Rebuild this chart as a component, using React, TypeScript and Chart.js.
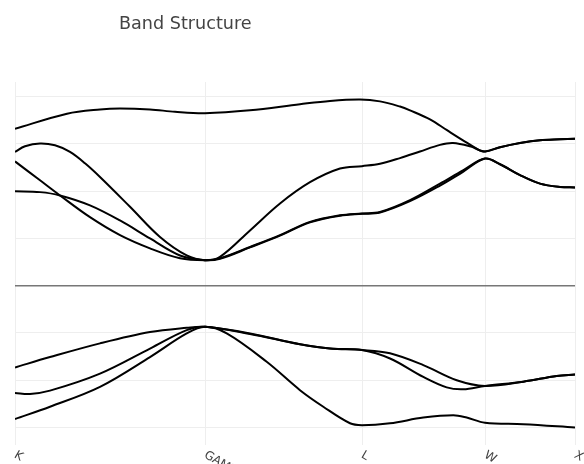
import React, { useEffect, useRef } from 'react';
import { Chart, registerables } from 'chart.js';

Chart.register(...registerables);

const titleText = 'Band Structure';

// high-symmetry points along the k-path
const kLabels = ['K', 'GAMMA', 'L', 'W', 'X'];
const kTicks = [0, 1.9, 3.47, 4.7, 5.6];

// energy grid
const energyTicks = [-3, -2, -1, 0, 1, 2, 3, 4];
const energyMin = -3.37;
const energyMax = 4.31;

// conduction bands
const c4K = [0, 0.52, 0.85, 1.05, 1.35, 1.6, 1.9, 2.35, 2.85, 3.15, 3.45, 3.65, 3.85, 3.95, 4.15, 4.32, 4.5, 4.65, 4.7, 4.85, 5.05, 5.25, 5.45, 5.6];
const c4E = [3.32, 3.64, 3.73, 3.75, 3.73, 3.68, 3.65, 3.71, 3.84, 3.91, 3.94, 3.9, 3.79, 3.71, 3.52, 3.29, 3.05, 2.86, 2.84, 2.93, 3.02, 3.08, 3.1, 3.11];

const c3K = [0, 0.1, 0.25, 0.4, 0.55, 0.7, 0.85, 1.15, 1.45, 1.717, 1.9, 2.05, 2.35, 2.65, 2.95, 3.25, 3.47, 3.65, 3.85, 4.05, 4.25, 4.38, 4.55, 4.7, 4.85, 5.05, 5.25, 5.45, 5.6];
const c3E = [2.83, 2.95, 3.01, 2.97, 2.83, 2.59, 2.3, 1.67, 1.03, 0.64, 0.54, 0.61, 1.17, 1.74, 2.19, 2.48, 2.53, 2.58, 2.7, 2.84, 2.98, 3.02, 2.95, 2.84, 2.93, 3.02, 3.08, 3.1, 3.11];

const c2K = [0, 0.25, 0.45, 0.75, 1.05, 1.35, 1.65, 1.9, 2.05, 2.35, 2.65, 2.95, 3.25, 3.47, 3.65, 3.95, 4.25, 4.48, 4.7, 4.85, 5.05, 5.25, 5.45, 5.6];
const c2E = [2.63, 2.23, 1.91, 1.45, 1.07, 0.79, 0.58, 0.54, 0.58, 0.82, 1.07, 1.35, 1.49, 1.53, 1.56, 1.81, 2.16, 2.44, 2.69, 2.57, 2.34, 2.16, 2.09, 2.08];

const c1K = [0, 0.25, 0.45, 0.75, 1.05, 1.35, 1.65, 1.9, 2.05, 2.35, 2.65, 2.95, 3.25, 3.47, 3.65, 3.95, 4.25, 4.48, 4.7, 4.85, 5.05, 5.25, 5.45, 5.6];
const c1E = [2.0, 1.98, 1.91, 1.7, 1.38, 1.0, 0.64, 0.54, 0.57, 0.81, 1.06, 1.34, 1.48, 1.52, 1.55, 1.79, 2.12, 2.41, 2.69, 2.57, 2.34, 2.16, 2.09, 2.08];

// valence bands
const v1K = [0, 0.35, 0.85, 1.35, 1.717, 1.9, 2.35, 2.85, 3.15, 3.47, 3.75, 4.083, 4.417, 4.7, 5.083, 5.417, 5.6];
const v1E = [-1.73, -1.51, -1.22, -0.98, -0.89, -0.87, -1.01, -1.24, -1.33, -1.36, -1.43, -1.68, -2.0, -2.12, -2.03, -1.91, -1.88];

const v2K = [0, 0.15, 0.35, 0.85, 1.35, 1.717, 1.9, 2.35, 2.85, 3.15, 3.47, 3.75, 4.083, 4.317, 4.483, 4.7, 5.083, 5.417, 5.6];
const v2E = [-2.27, -2.29, -2.22, -1.86, -1.33, -0.94, -0.87, -1.02, -1.24, -1.33, -1.36, -1.54, -1.93, -2.15, -2.19, -2.12, -2.03, -1.91, -1.88];

const v3K = [0, 0.35, 0.85, 1.35, 1.717, 1.9, 2.117, 2.517, 2.85, 3.083, 3.35, 3.47, 3.75, 4.083, 4.383, 4.517, 4.7, 5.083, 5.6];
const v3E = [-2.82, -2.56, -2.14, -1.51, -1.01, -0.87, -1.01, -1.61, -2.21, -2.56, -2.91, -2.95, -2.91, -2.79, -2.74, -2.79, -2.9, -2.93, -3.0];

const bands: [number[], number[]][] = [
  [c4K, c4E],
  [c3K, c3E],
  [c2K, c2E],
  [c1K, c1E],
  [v1K, v1E],
  [v2K, v2E],
  [v3K, v3E],
];

const overlayPlugin = {
  id: 'overlayText',
  afterDraw(chart: any) {
    const ctx = chart.ctx as CanvasRenderingContext2D;
    const xs = chart.scales.x;
    const area = chart.chartArea;
    ctx.save();
    ctx.fillStyle = '#444';
    ctx.font = '17.6px "DejaVu Sans"';
    ctx.textBaseline = 'alphabetic';
    ctx.textAlign = 'left';
    ctx.fillText(titleText, 119, 29);
    ctx.font = '12px "DejaVu Sans"';
    ctx.textBaseline = 'top';
    kTicks.forEach((k, i) => {
      const px = xs.getPixelForValue(k);
      ctx.save();
      ctx.translate(px + 3, area.bottom + 4);
      ctx.rotate(Math.PI / 6);
      ctx.fillText(kLabels[i], 0, 0);
      ctx.restore();
    });
    ctx.restore();
  },
};

export default function App() {
  const ref = useRef<HTMLCanvasElement | null>(null);
  useEffect(() => {
    if (!ref.current) return;
    const chart = new Chart(ref.current, {
      type: 'line',
      data: {
        datasets: bands.map(([ks, es]) => ({
          data: ks.map((k, i) => ({ x: k, y: es[i] })),
          borderColor: '#000',
          borderWidth: 2,
          pointRadius: 0,
          fill: false,
          tension: 0.35,
        })),
      },
      options: {
        animation: false,
        responsive: false,
        layout: { padding: { left: 15, right: 9, top: 82, bottom: 19 } },
        plugins: {
          legend: { display: false },
          tooltip: { enabled: false },
          title: { display: false },
        },
        scales: {
          x: {
            type: 'linear',
            min: kTicks[0],
            max: kTicks[kTicks.length - 1],
            afterBuildTicks: (s: any) => {
              s.ticks = kTicks.map((v) => ({ value: v }));
            },
            ticks: { display: false },
            grid: { color: '#eee', lineWidth: 1, drawTicks: false },
            border: { display: false },
          },
          y: {
            type: 'linear',
            min: energyMin,
            max: energyMax,
            afterBuildTicks: (s: any) => {
              s.ticks = energyTicks.map((v) => ({ value: v }));
            },
            ticks: { display: false },
            grid: {
              color: (c: any) => (c.tick && c.tick.value === 0 ? '#777' : '#eee'),
              lineWidth: (c: any) => (c.tick && c.tick.value === 0 ? 1.5 : 1),
              drawTicks: false,
            },
            border: { display: false },
          },
        },
      },
      plugins: [overlayPlugin],
    } as any);
    return () => chart.destroy();
  }, []);
  return (
    <div style={{ position: 'absolute', left: 0, top: 0, width: 584, height: 464, background: '#fff' }}>
      <canvas ref={ref} width={584} height={464} />
    </div>
  );
}
